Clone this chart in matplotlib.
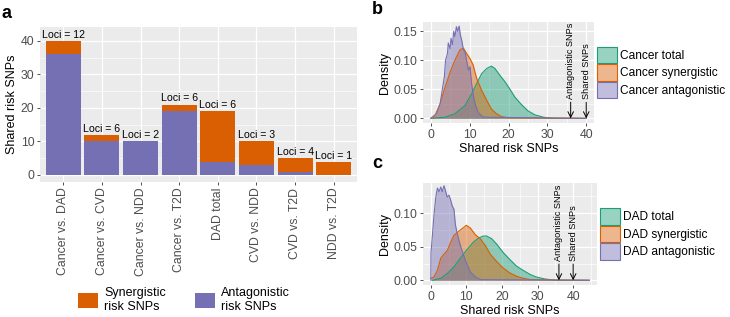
import numpy as np
import matplotlib
matplotlib.use("Agg")
import matplotlib.pyplot as plt
from matplotlib.patches import Patch
from matplotlib.ticker import MultipleLocator

# ---- data: panel a ----
pairs = ["Cancer vs. DAD", "Cancer vs. CVD", "Cancer vs. NDD", "Cancer vs. T2D",
         "DAD total", "CVD vs. NDD", "CVD vs. T2D", "NDD vs. T2D"]
total_snps = [40, 12, 10, 21, 19, 10, 5, 4]
antagonistic = [36, 10, 10, 19, 4, 3, 1, 0]
loci = [12, 6, 2, 6, 6, 3, 4, 1]

# ---- data: panel b (Cancer densities) ----
b_total_x = [0, 3.7, 6.2, 8.8, 10.5, 11.8, 13.1, 14.4, 15.6, 16.5, 17.8, 19.1, 20.3, 21.6, 23.3, 25, 26.8, 29, 31, 40]
b_total_y = [0, 0.002, 0.008, 0.022, 0.042, 0.060, 0.077, 0.086, 0.090, 0.086, 0.074, 0.063, 0.051, 0.037, 0.024,
             0.013, 0.006, 0.002, 0.0, 0.0]
b_syn_x = [0.5, 1.1, 2.4, 3.7, 5.0, 6.2, 7.5, 8.4, 9.2, 10.1, 10.9, 11.8, 13.1, 14.4, 15.6, 16.9, 18.2, 20, 40]
b_syn_y = [0, 0.005, 0.025, 0.054, 0.080, 0.100, 0.118, 0.121, 0.112, 0.103, 0.092, 0.069, 0.048, 0.031, 0.016,
           0.008, 0.003, 0.001, 0]
b_ant_x = [0, 0.3, 1.5, 2.4, 3.0, 3.5, 3.8, 4.3, 4.5, 4.96, 5.2, 5.6, 5.9, 6.2, 6.6, 6.9, 7.3, 7.6, 7.95, 8.4,
           8.8, 9.2, 9.7, 10.1, 10.5, 10.9, 11.4, 12.2, 13.5, 40]
b_ant_y = [0, 0.002, 0.008, 0.025, 0.051, 0.072, 0.100, 0.112, 0.130, 0.120, 0.138, 0.127, 0.150, 0.141, 0.158,
           0.150, 0.159, 0.144, 0.135, 0.118, 0.115, 0.100, 0.083, 0.089, 0.060, 0.042, 0.025, 0.010, 0.002, 0]

# ---- data: panel c (DAD densities) ----
c_total_x = [0.5, 2.8, 4.6, 6.5, 8.3, 10.2, 12, 13.4, 14.8, 15.7, 17.1, 18.5, 20.4, 22.2, 24.1, 25.9, 27.8, 29.6,
             32, 35, 44.5]
c_total_y = [0, 0.003, 0.010, 0.020, 0.033, 0.046, 0.057, 0.063, 0.066, 0.066, 0.062, 0.054, 0.041, 0.031, 0.021,
             0.015, 0.009, 0.005, 0.002, 0, 0]
c_syn_x = [0, 0.9, 1.85, 2.8, 3.7, 4.6, 5.6, 6.5, 7.4, 8.3, 10, 11.1, 12.5, 13.9, 15.3, 16.7, 18.5, 20.4, 22.2,
           24.1, 26, 28, 44.5]
c_syn_y = [0.003, 0.005, 0.015, 0.033, 0.039, 0.044, 0.057, 0.067, 0.071, 0.075, 0.082, 0.078, 0.068, 0.062, 0.052,
           0.039, 0.028, 0.018, 0.011, 0.006, 0.003, 0.001, 0]
c_ant_x = [0, 0.05, 0.9, 1.4, 1.85, 2.3, 2.8, 3.2, 3.7, 4.2, 4.6, 5.1, 5.6, 6.0, 6.5, 6.9, 7.4, 8.3, 9.3, 10.2,
           11.1, 12.5, 14, 44.5]
c_ant_y = [0, 0.041, 0.098, 0.124, 0.1375, 0.132, 0.139, 0.132, 0.141, 0.132, 0.124, 0.127, 0.119, 0.111, 0.106,
           0.083, 0.070, 0.052, 0.036, 0.023, 0.0125, 0.005, 0.001, 0]

arrow_x = [36, 40]
arrow_labels = ["Antagonistic SNPs", "Shared SNPs"]

ORANGE = "#D95F02"
PURPLE = "#7570B3"
TEAL = "#1B9E77"
PANEL = "#EBEBEB"
TICKTXT = "#4D4D4D"

plt.rcParams["font.family"] = "Liberation Sans"

fig = plt.figure(figsize=(7.3, 3.17), dpi=100)


def gg_style(ax):
    ax.set_facecolor(PANEL)
    for s in ax.spines.values():
        s.set_visible(False)
    ax.grid(True, which="major", color="white", lw=0.9)
    ax.grid(True, which="minor", color="white", lw=0.45)
    ax.set_axisbelow(True)
    ax.tick_params(which="major", length=2.5, width=0.6, color="#333333", labelsize=8.8,
                   labelcolor=TICKTXT, pad=1.5)
    ax.tick_params(which="minor", length=0)


# ---- panel a ----
ax = fig.add_axes([40 / 730, 1 - 182 / 317, 317 / 730, 155 / 317])
gg_style(ax)
x = np.arange(1, len(pairs) + 1)
syn = [t - a for t, a in zip(total_snps, antagonistic)]
ax.bar(x, antagonistic, width=0.9, color=PURPLE)
ax.bar(x, syn, bottom=antagonistic, width=0.9, color=ORANGE)
for xi, t, n in zip(x, total_snps, loci):
    ax.text(xi, t + 0.3, f"Loci = {n}", ha="center", va="bottom", fontsize=7.6)
ax.set_xlim(0.4, 8.6)
ax.set_ylim(-2.1, 44.1)
ax.set_xticks(x)
ax.set_xticklabels(pairs, rotation=90)
ax.yaxis.set_major_locator(MultipleLocator(10))
ax.yaxis.set_minor_locator(MultipleLocator(5))
ax.set_ylabel("Shared risk SNPs", fontsize=9, labelpad=2)
fig.text(2 / 730, 1 - 13 / 317, "a", fontsize=13, fontweight="bold", va="center")

handles = [Patch(facecolor=ORANGE, edgecolor="none"), Patch(facecolor=PURPLE, edgecolor="none")]
fig.legend(handles, ["Synergistic\nrisk SNPs", "Antagonistic\nrisk SNPs"], ncol=2, frameon=False,
           loc="center left", bbox_to_anchor=(67 / 730, 1 - 300 / 317), fontsize=9,
           handlelength=1.6, handleheight=1.5, handletextpad=0.5, columnspacing=2.3)


# ---- density panels ----
def density_panel(rect, series, names, xlim, ylim, yticks, letter, letter_y):
    ax = fig.add_axes(rect)
    gg_style(ax)
    for (xs, ys), col in zip(series, [TEAL, ORANGE, PURPLE]):
        ax.fill_between(xs, ys, color=col, alpha=0.45, lw=0)
        ax.plot(xs, ys, color=col, lw=0.8)
    for xa, lab in zip(arrow_x, arrow_labels):
        ax.annotate("", xy=(xa, 0), xytext=(xa, 0.16 * (ylim[1] - ylim[0])),
                    arrowprops=dict(arrowstyle="->", lw=0.7, color="black", shrinkA=0, shrinkB=0))
        ax.text(xa, 0.19 * (ylim[1] - ylim[0]), lab, rotation=90, ha="center", va="bottom", fontsize=6.6)
    ax.set_xlim(*xlim)
    ax.set_ylim(*ylim)
    ax.xaxis.set_major_locator(MultipleLocator(10))
    ax.xaxis.set_minor_locator(MultipleLocator(5))
    ax.set_yticks(yticks)
    ax.set_yticklabels([f"{v:.2f}" for v in yticks])
    ax.yaxis.set_minor_locator(MultipleLocator(0.025))
    ax.set_xlabel("Shared risk SNPs", fontsize=9, labelpad=1.5)
    ax.set_ylabel("Density", fontsize=9, labelpad=2)
    hs = []
    for c in [TEAL, ORANGE, PURPLE]:
        r, g, b_, _ = matplotlib.colors.to_rgba(c)
        hs.append(Patch(facecolor=(r, g, b_, 0.45), edgecolor=c, lw=0.8))
    ax.legend(hs, names, loc="center left", bbox_to_anchor=(1.02, 0.5), frameon=False, fontsize=8.6,
              handlelength=1.6, handleheight=1.8, labelspacing=0.05, handletextpad=0.3, borderpad=0,
              borderaxespad=0)
    fig.text(372 / 730, 1 - letter_y / 317, letter, fontsize=13, fontweight="bold", va="center")
    return ax


density_panel([423 / 730, 1 - 123 / 317, 171 / 730, 101 / 317],
              [(b_total_x, b_total_y), (b_syn_x, b_syn_y), (b_ant_x, b_ant_y)],
              ["Cancer total", "Cancer synergistic", "Cancer antagonistic"],
              (-2, 42), (-0.008, 0.166), [0.0, 0.05, 0.10, 0.15], "b", 9)

density_panel([423 / 730, 1 - 285 / 317, 174 / 730, 102 / 317],
              [(c_total_x, c_total_y), (c_syn_x, c_syn_y), (c_ant_x, c_ant_y)],
              ["DAD total", "DAD synergistic", "DAD antagonistic"],
              (-2.2, 46.7), (-0.007, 0.145), [0.0, 0.05, 0.10], "c", 163)

fig.savefig("out.png", dpi=100)
